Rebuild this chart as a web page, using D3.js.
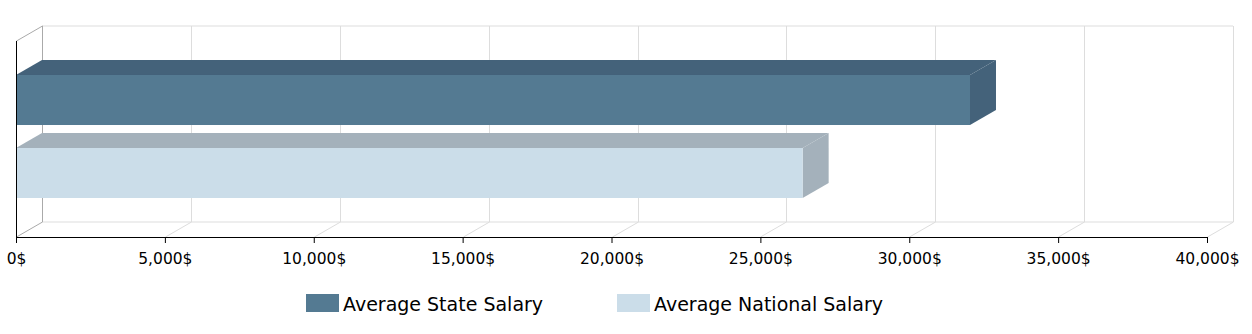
<!DOCTYPE html>
<html><head><meta charset="utf-8">
<script src="https://cdn.jsdelivr.net/npm/d3@7"></script>
<style>body{margin:0;background:#fff}svg{display:block}</style>
</head><body>
<svg id="c" width="1252" height="334"></svg>
<script>
const series = ["Average State Salary", "Average National Salary"];
const values = [32040, 26420];
const frontColors = ["#547a92", "#cbdde9"];
const topColors = ["#44627a", "#a4b1bb"];
const sideColors = ["#44627a", "#a4b1bb"];
const tickValues = [0, 5000, 10000, 15000, 20000, 25000, 30000, 35000, 40000];

const svg = d3.select("#c");
const dx = 26, dy = -15;
const x0 = 16, x1 = 1207, yTop = 41, yBase = 237;
const x = d3.scaleLinear().domain([0, 40000]).range([x0, x1]);
const y = d3.scaleBand().domain(series).range([52, 221]).paddingInner(0.315).paddingOuter(0.315);
const fmt = d => d3.format(",")(d) + "$";

// back wall grid
const g = svg.append("g");
g.append("line").attr("x1", x0+dx).attr("x2", x1+dx).attr("y1", yTop+dy).attr("y2", yTop+dy).attr("stroke", "#ddd");
g.append("line").attr("x1", x0+dx).attr("x2", x1+dx).attr("y1", yBase+dy).attr("y2", yBase+dy).attr("stroke", "#ddd");
tickValues.forEach((t, i) => {
  const xx = Math.round(x(t)) + 0.5;
  g.append("line").attr("x1", xx+dx).attr("x2", xx+dx).attr("y1", yTop+dy).attr("y2", yBase+dy)
    .attr("stroke", i === 0 ? "#aaa" : "#ddd");
  g.append("line").attr("x1", xx).attr("x2", xx+dx).attr("y1", yBase).attr("y2", yBase+dy)
    .attr("stroke", i === 0 ? "#aaa" : "#ddd");
});
g.append("line").attr("x1", x0+0.5).attr("x2", x0+dx+0.5).attr("y1", yTop).attr("y2", yTop+dy).attr("stroke", "#aaa");

// bars
const bars = svg.append("g").selectAll("g").data(series).join("g");
bars.each(function(s, i) {
  const gg = d3.select(this);
  const xa = x(0), xb = x(values[i]), ya = y(s), yb = y(s) + y.bandwidth();
  gg.append("path").attr("fill", topColors[i])
    .attr("d", `M${xa},${ya}L${xa+dx},${ya+dy}L${xb+dx},${ya+dy}L${xb},${ya}Z`);
  gg.append("path").attr("fill", sideColors[i])
    .attr("d", `M${xb},${ya}L${xb+dx},${ya+dy}L${xb+dx},${yb+dy}L${xb},${yb}Z`);
  gg.append("rect").attr("x", xa).attr("y", ya).attr("width", xb - xa).attr("height", yb - ya).attr("fill", frontColors[i]);
});

// axes
const axis = d3.axisBottom(x).tickValues(tickValues).tickFormat(fmt).tickSize(6).tickPadding(10);
const ax = svg.append("g").attr("transform", `translate(0,${yBase})`).call(axis);
ax.select(".domain").attr("stroke", "#000");
ax.selectAll(".tick line").attr("stroke", "#000");
ax.selectAll("text").attr("font-family", "DejaVu Sans, Verdana, sans-serif").attr("font-size", 15.5).attr("fill", "#000");
svg.append("line").attr("x1", x0+0.5).attr("x2", x0+0.5).attr("y1", yTop).attr("y2", yBase).attr("stroke", "#000");

// legend
const legX = [306, 617];
const lg = svg.append("g").selectAll("g").data(series).join("g")
  .attr("transform", (d, i) => `translate(${legX[i]},294)`);
lg.append("rect").attr("width", 33).attr("height", 18).attr("fill", (d, i) => frontColors[i]);
lg.append("text").attr("x", 37).attr("y", 17).text(d => d)
  .attr("font-family", "DejaVu Sans, Verdana, sans-serif").attr("font-size", 19).attr("fill", "#000");
</script>
</body></html>
